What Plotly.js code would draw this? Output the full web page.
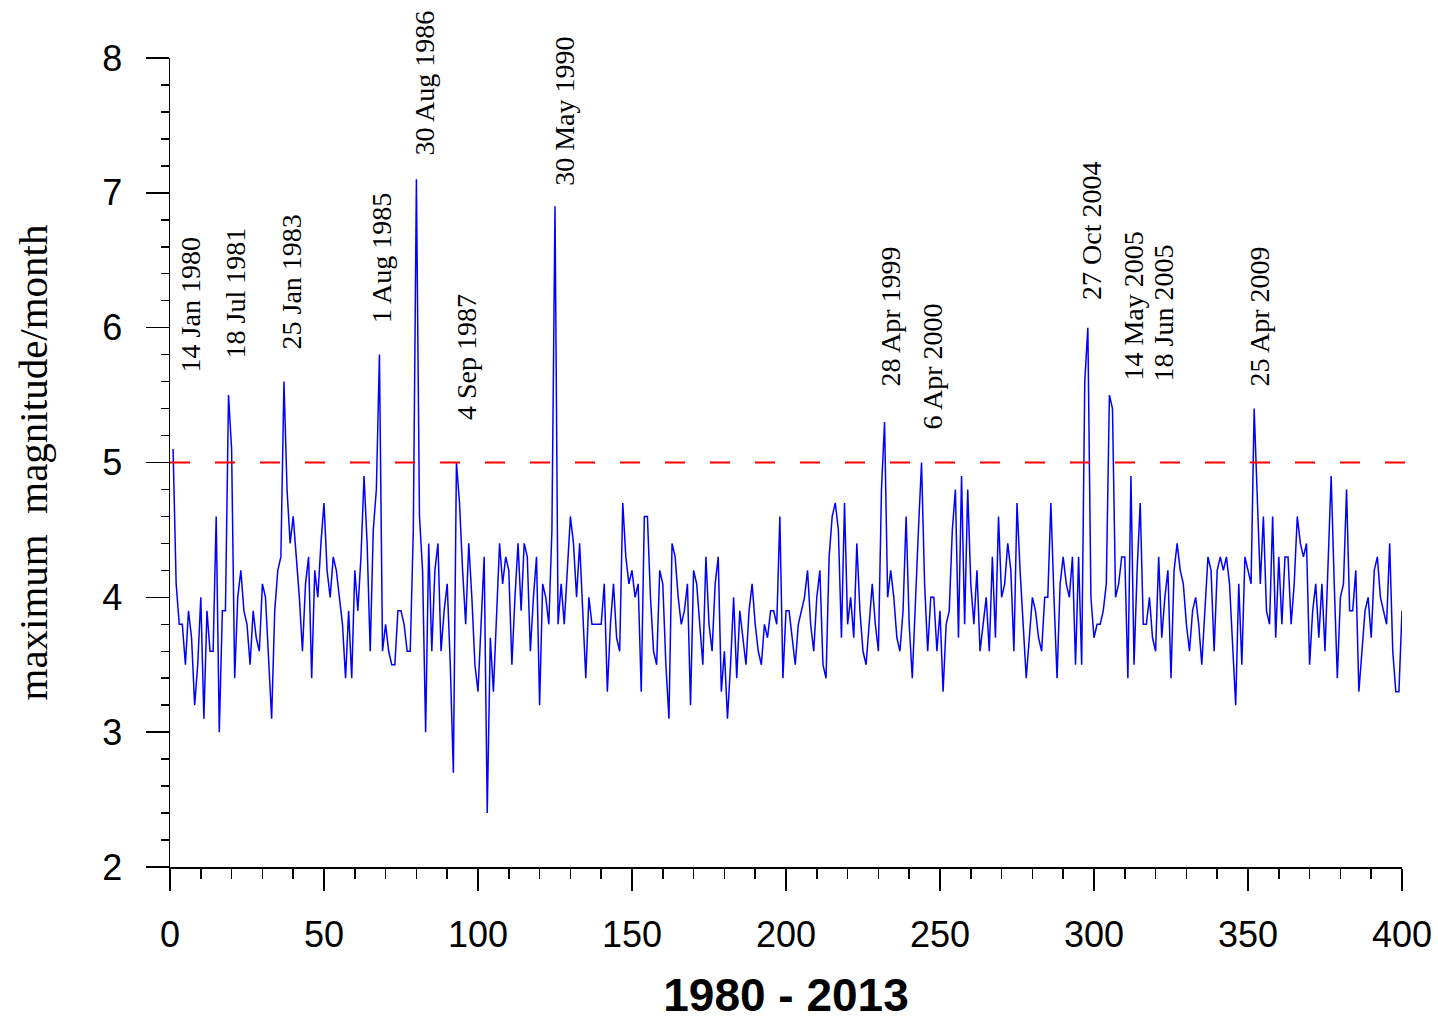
<!DOCTYPE html>
<html>
<head>
<meta charset="utf-8">
<script src="https://cdn.plot.ly/plotly-3.0.1.min.js"></script>
<style>
  html, body { margin: 0; padding: 0; background: #ffffff; }
  #chart { width: 1438px; height: 1021px; }
</style>
</head>
<body>
<div id="chart"></div>
<script>
// Maximum magnitude per month, months 1..400 (Jan 1980 onward)
const maxMagnitude = [
  5.1,4.1,3.8,3.8,3.5,3.9,3.7,3.2,3.5,4.0,
  3.1,3.9,3.6,3.6,4.6,3.0,3.9,3.9,5.5,5.1,
  3.4,4.0,4.2,3.9,3.8,3.5,3.9,3.7,3.6,4.1,
  4.0,3.5,3.1,3.9,4.2,4.3,5.6,4.8,4.4,4.6,
  4.3,4.0,3.6,4.1,4.3,3.4,4.2,4.0,4.4,4.7,
  4.2,4.0,4.3,4.2,4.0,3.8,3.4,3.9,3.4,4.2,
  3.9,4.3,4.9,4.4,3.6,4.5,4.8,5.8,3.6,3.8,
  3.6,3.5,3.5,3.9,3.9,3.8,3.6,3.6,4.5,7.1,
  4.6,4.2,3.0,4.4,3.6,4.2,4.4,3.6,3.9,4.1,
  3.5,2.7,5.0,4.7,4.2,3.8,4.4,4.0,3.5,3.3,
  3.8,4.3,2.4,3.7,3.3,3.9,4.4,4.1,4.3,4.2,
  3.5,4.0,4.4,3.9,4.4,4.3,3.6,4.0,4.3,3.2,
  4.1,4.0,3.8,4.5,6.9,3.8,4.1,3.8,4.2,4.6,
  4.4,4.0,4.4,3.9,3.4,4.0,3.8,3.8,3.8,3.8,
  4.1,3.3,3.8,4.1,3.7,3.6,4.7,4.3,4.1,4.2,
  4.0,4.1,3.3,4.6,4.6,4.0,3.6,3.5,4.2,4.1,
  3.5,3.1,4.4,4.3,4.0,3.8,3.9,4.1,3.2,4.2,
  4.1,3.8,3.5,4.3,3.8,3.6,4.1,4.3,3.3,3.6,
  3.1,3.5,4.0,3.4,3.9,3.7,3.5,3.9,4.1,3.8,
  3.6,3.5,3.8,3.7,3.9,3.9,3.8,4.6,3.4,3.9,
  3.9,3.7,3.5,3.8,3.9,4.0,4.2,3.8,3.6,4.0,
  4.2,3.5,3.4,4.3,4.6,4.7,4.5,3.7,4.7,3.8,
  4.0,3.7,4.4,3.9,3.6,3.5,3.8,4.1,3.8,3.6,
  4.8,5.3,4.0,4.2,4.0,3.7,3.6,3.9,4.6,3.8,
  3.4,4.0,4.5,5.0,4.1,3.6,4.0,4.0,3.6,3.9,
  3.3,3.8,3.9,4.5,4.8,3.7,4.9,3.8,4.8,4.1,
  3.8,4.2,3.6,3.8,4.0,3.6,4.3,3.7,4.6,4.0,
  4.1,4.4,4.2,3.6,4.7,4.2,3.8,3.4,3.7,4.0,
  3.9,3.7,3.6,4.0,4.0,4.7,4.0,3.4,4.1,4.3,
  4.1,4.0,4.3,3.5,4.3,3.5,5.6,6.0,4.0,3.7,
  3.8,3.8,3.9,4.1,5.5,5.4,4.0,4.1,4.3,4.3,
  3.4,4.9,3.5,4.2,4.7,3.8,3.8,4.0,3.7,3.6,
  4.3,3.7,4.0,4.2,3.4,4.2,4.4,4.2,4.1,3.8,
  3.6,3.9,4.0,3.8,3.5,3.9,4.3,4.2,3.6,4.2,
  4.3,4.2,4.3,4.1,3.6,3.2,4.1,3.5,4.3,4.2,
  4.1,5.4,4.7,4.1,4.6,3.9,3.8,4.6,3.7,4.3,
  3.8,4.3,4.3,3.8,4.1,4.6,4.4,4.3,4.4,3.5,
  3.9,4.1,3.7,4.1,3.6,4.2,4.9,4.1,3.4,4.0,
  4.1,4.8,3.9,3.9,4.2,3.3,3.6,3.9,4.0,3.7,
  4.2,4.3,4.0,3.9,3.8,4.4,3.6,3.3,3.3,3.9
];
const monthIndex = maxMagnitude.map((v, i) => i + 1);

const threshold = 5;

// Labelled events: text, label x position (month axis), label bottom (magnitude axis)
const eventLabels = ["14 Jan 1980","18 Jul 1981","25 Jan 1983","1 Aug 1985","30 Aug 1986","4 Sep 1987",
  "30 May 1990","28 Apr 1999","6 Apr 2000","27 Oct 2004","14 May 2005","18 Jun 2005","25 Apr 2009"];
const eventLabelX = [6.5, 21.4, 39.3, 68.8, 82.5, 96.1, 128.2, 233.8, 247.7, 299.0, 312.7, 322.4, 353.6];
const eventLabelY = [5.65, 5.76, 5.82, 6.02, 7.26, 5.30, 7.04, 5.55, 5.23, 6.19, 5.59, 5.59, 5.55];

const xTickVals = [0, 50, 100, 150, 200, 250, 300, 350, 400];
const yTickVals = [2, 3, 4, 5, 6, 7, 8];
const xRange = [0, 400];
const yRange = [2, 8];
const thresholdEnd = 406.5;

const trace = {
  x: monthIndex,
  y: maxMagnitude,
  type: 'scatter',
  mode: 'lines',
  line: { color: '#0000ff', width: 1.5 },
  hoverinfo: 'x+y'
};

const annotations = eventLabels.map((t, i) => ({
  text: t,
  x: eventLabelX[i],
  y: eventLabelY[i],
  xref: 'x', yref: 'y',
  textangle: -90,
  xanchor: 'center',
  yanchor: 'bottom',
  showarrow: false,
  font: { family: 'Liberation Serif, "Times New Roman", serif', size: 28, color: '#000000' }
}));

const layout = {
  width: 1438,
  height: 1021,
  margin: { l: 170, r: 36, t: 58, b: 154 },
  paper_bgcolor: '#ffffff',
  plot_bgcolor: '#ffffff',
  showlegend: false,
  xaxis: {
    range: xRange,
    tickvals: xTickVals,
    ticks: 'outside',
    ticklen: 22,
    tickwidth: 1.5,
    tickcolor: '#000000',
    showline: true,
    linecolor: '#000000',
    linewidth: 1.5,
    showgrid: false,
    zeroline: false,
    ticklabelstandoff: 13,
    tickfont: { family: 'Liberation Sans, Arial, sans-serif', size: 36, color: '#000000' },
    minor: { dtick: 10, ticks: 'outside', ticklen: 10, tickwidth: 1.5, tickcolor: '#000000', showgrid: false },
    title: { text: '<b>1980 - 2013</b>', font: { family: 'Liberation Sans, Arial, sans-serif', size: 46, color: '#000000' }, standoff: 30 }
  },
  yaxis: {
    range: yRange,
    tickvals: yTickVals,
    ticks: 'outside',
    ticklen: 23,
    tickwidth: 1.5,
    tickcolor: '#000000',
    showline: true,
    linecolor: '#000000',
    linewidth: 1.5,
    showgrid: false,
    zeroline: false,
    ticklabelstandoff: 16,
    tickfont: { family: 'Liberation Sans, Arial, sans-serif', size: 36, color: '#000000' },
    minor: { dtick: 0.2, ticks: 'outside', ticklen: 8, tickwidth: 1.5, tickcolor: '#000000', showgrid: false },
    title: { text: 'maximum  magnitude/month', font: { family: 'Liberation Serif, "Times New Roman", serif', size: 41, color: '#000000' }, standoff: 42 }
  },
  shapes: [{
    type: 'line',
    xref: 'paper', yref: 'paper',
    x0: 0,
    x1: (thresholdEnd - xRange[0]) / (xRange[1] - xRange[0]),
    y0: (threshold - yRange[0]) / (yRange[1] - yRange[0]),
    y1: (threshold - yRange[0]) / (yRange[1] - yRange[0]),
    line: { color: '#ff0000', width: 2, dash: '20px,25px' }
  }],
  annotations: annotations
};

Plotly.newPlot('chart', [trace], layout, { displayModeBar: false, staticPlot: true });
</script>
</body>
</html>
